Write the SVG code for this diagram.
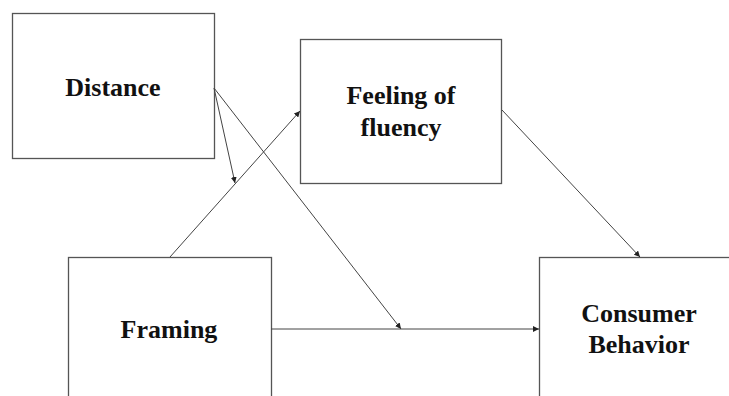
<svg xmlns="http://www.w3.org/2000/svg" width="729" height="396" viewBox="0 0 729 396">
<style>
.box{fill:#fff;stroke:#555;stroke-width:1.3}
.lbl{font-family:"Liberation Serif","Times New Roman",serif;font-weight:bold;font-size:26px;fill:#111;text-anchor:middle}
.c{stroke:#444;stroke-width:1;fill:none;marker-end:url(#ah)}
</style>
<defs>
<marker id="ah" viewBox="0 0 10 10" refX="10" refY="5" markerWidth="6" markerHeight="6" markerUnits="userSpaceOnUse" orient="auto">
<path d="M0,0 L10,5 L0,10 z" fill="#222"/>
</marker>
</defs>
<rect width="729" height="396" fill="#fff"/>
<g id="distance">
<rect class="box" x="12.5" y="13.5" width="202" height="145"/>
<text class="lbl" x="113" y="96">Distance</text>
</g>
<g id="fluency">
<rect class="box" x="300.5" y="39.5" width="201" height="144"/>
<text class="lbl" x="401" y="104">Feeling of</text>
<text class="lbl" x="401" y="136">fluency</text>
</g>
<g id="framing">
<rect class="box" x="68.5" y="257.5" width="203" height="150"/>
<text class="lbl" x="169" y="338">Framing</text>
</g>
<g id="consumer">
<rect class="box" x="539.5" y="257.5" width="200" height="150"/>
<text class="lbl" x="639" y="322">Consumer</text>
<text class="lbl" x="639" y="353">Behavior</text>
</g>
<g id="connectors">
<line class="c" x1="214" y1="88" x2="235" y2="183"/>
<line class="c" x1="214" y1="88" x2="401" y2="329"/>
<line class="c" x1="170" y1="257" x2="300" y2="111"/>
<line class="c" x1="502" y1="110" x2="640" y2="257"/>
<line class="c" x1="271" y1="329" x2="539" y2="329"/>
</g>
</svg>
